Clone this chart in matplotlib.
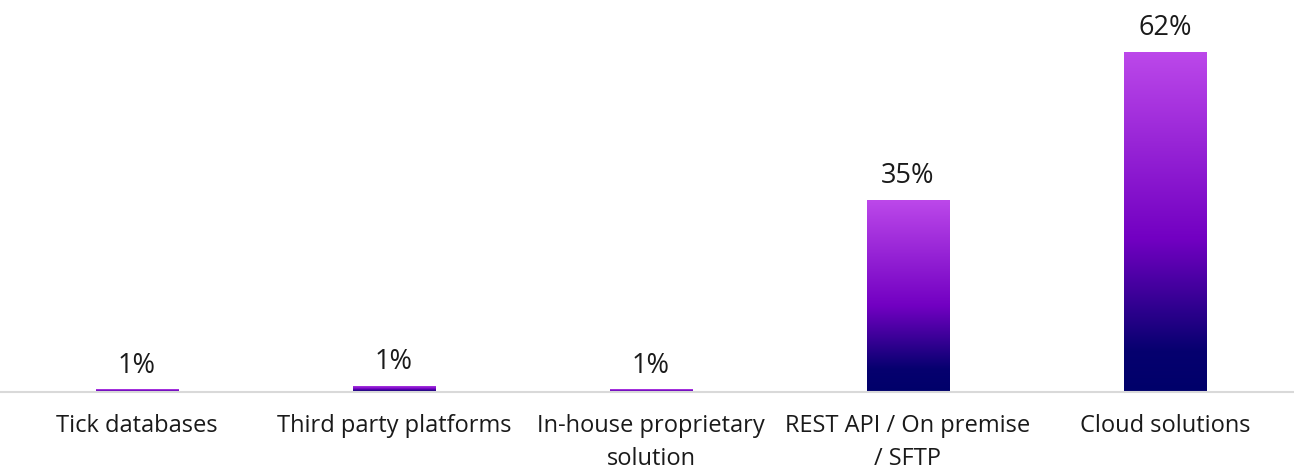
import numpy as np
import matplotlib
matplotlib.use('Agg')
import matplotlib.pyplot as plt
from matplotlib.colors import LinearSegmentedColormap

categories = ['Tick databases', 'Third party platforms', 'In-house proprietary\nsolution',
              'REST API / On premise\n/ SFTP', 'Cloud solutions']
values = [0.5, 1.1, 0.5, 35, 62]
value_labels = ['1%', '1%', '1%', '35%', '62%']

plt.rcParams['font.family'] = ['Open Sans', 'DejaVu Sans']

# vertical gradient: navy at the bottom, violet at the top
grad = LinearSegmentedColormap.from_list('bar_grad', [
    (0.0, '#00006a'), (0.12, '#06006f'), (0.45, '#7200c2'), (1.0, '#bc48ea')])

fig = plt.figure(figsize=(12.94, 4.70), dpi=100)
ax = fig.add_axes([0, 78 / 470, 1, 392 / 470])

x = np.arange(len(categories))
width = 0.32
bars = ax.bar(x, values, width=width, color='none', edgecolor='none')

ramp = np.linspace(0, 1, 256).reshape(-1, 1)
for b in bars:
    x0, y0 = b.get_x(), b.get_y()
    w, h = b.get_width(), b.get_height()
    im = ax.imshow(ramp, cmap=grad, origin='lower', aspect='auto',
                   extent=[x0, x0 + w, y0, y0 + h], interpolation='bilinear', zorder=2)
    im.set_clip_path(b)

for xi, v, lab in zip(x, values, value_labels):
    ax.annotate(lab, (xi, v), xytext=(0, 7), textcoords='offset points',
                ha='center', va='bottom', fontsize=19.5, color='#1a1a1a')

ax.set_xlim(-137 / 257, 4 + 129 / 257)
ax.set_ylim(0, 71.5)
ax.set_xticks(x)
ax.set_xticklabels(categories, fontsize=17, color='#1a1a1a', linespacing=1.5)
ax.tick_params(axis='x', length=0, pad=16)
ax.set_yticks([])
for s in ['top', 'left', 'right']:
    ax.spines[s].set_visible(False)
ax.spines['bottom'].set_color('#d9d9d9')
ax.spines['bottom'].set_linewidth(1.5)

fig.savefig('out.png', dpi=100)
